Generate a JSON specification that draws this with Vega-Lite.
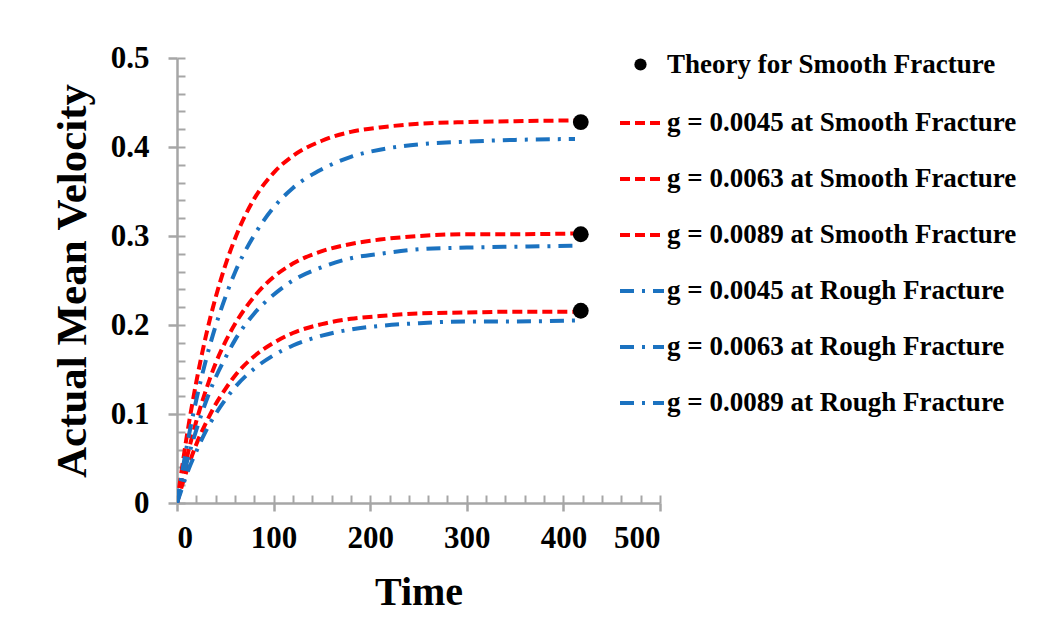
{
  "$schema": "https://vega.github.io/schema/vega-lite/v6.json",
  "width": 483,
  "height": 445,
  "autosize": {"type": "none"},
  "padding": {"left": 177, "top": 58, "right": 393, "bottom": 133},
  "background": "white",
  "config": {
    "view": {"stroke": null},
    "axis": {
      "labelFont": "Liberation Serif",
      "labelFontWeight": "bold",
      "labelColor": "black",
      "titleFont": "Liberation Serif",
      "titleFontWeight": "bold",
      "titleColor": "black",
      "domainColor": "#a6a6a6",
      "tickColor": "#a6a6a6",
      "grid": false
    },
    "legend": {
      "labelFont": "Liberation Serif",
      "labelFontWeight": "bold",
      "labelColor": "black",
      "labelLimit": 600,
      "padding": 0
    }
  },
  "datasets": {
    "curves": [
      {"series": "g = 0.0045 at Smooth Fracture", "time": 0, "velocity": 0},
      {"series": "g = 0.0045 at Smooth Fracture", "time": 5, "velocity": 0.038},
      {"series": "g = 0.0045 at Smooth Fracture", "time": 10, "velocity": 0.074},
      {"series": "g = 0.0045 at Smooth Fracture", "time": 20, "velocity": 0.136},
      {"series": "g = 0.0045 at Smooth Fracture", "time": 30, "velocity": 0.188},
      {"series": "g = 0.0045 at Smooth Fracture", "time": 40, "velocity": 0.231},
      {"series": "g = 0.0045 at Smooth Fracture", "time": 50, "velocity": 0.267},
      {"series": "g = 0.0045 at Smooth Fracture", "time": 60, "velocity": 0.297},
      {"series": "g = 0.0045 at Smooth Fracture", "time": 80, "velocity": 0.342},
      {"series": "g = 0.0045 at Smooth Fracture", "time": 100, "velocity": 0.371},
      {"series": "g = 0.0045 at Smooth Fracture", "time": 120, "velocity": 0.390},
      {"series": "g = 0.0045 at Smooth Fracture", "time": 150, "velocity": 0.407},
      {"series": "g = 0.0045 at Smooth Fracture", "time": 180, "velocity": 0.417},
      {"series": "g = 0.0045 at Smooth Fracture", "time": 210, "velocity": 0.422},
      {"series": "g = 0.0045 at Smooth Fracture", "time": 250, "velocity": 0.426},
      {"series": "g = 0.0045 at Smooth Fracture", "time": 300, "velocity": 0.428},
      {"series": "g = 0.0045 at Smooth Fracture", "time": 350, "velocity": 0.429},
      {"series": "g = 0.0045 at Smooth Fracture", "time": 420, "velocity": 0.430},

      {"series": "g = 0.0063 at Smooth Fracture", "time": 0, "velocity": 0},
      {"series": "g = 0.0063 at Smooth Fracture", "time": 5, "velocity": 0.026},
      {"series": "g = 0.0063 at Smooth Fracture", "time": 10, "velocity": 0.050},
      {"series": "g = 0.0063 at Smooth Fracture", "time": 20, "velocity": 0.092},
      {"series": "g = 0.0063 at Smooth Fracture", "time": 30, "velocity": 0.127},
      {"series": "g = 0.0063 at Smooth Fracture", "time": 40, "velocity": 0.157},
      {"series": "g = 0.0063 at Smooth Fracture", "time": 50, "velocity": 0.181},
      {"series": "g = 0.0063 at Smooth Fracture", "time": 60, "velocity": 0.201},
      {"series": "g = 0.0063 at Smooth Fracture", "time": 80, "velocity": 0.232},
      {"series": "g = 0.0063 at Smooth Fracture", "time": 100, "velocity": 0.254},
      {"series": "g = 0.0063 at Smooth Fracture", "time": 120, "velocity": 0.269},
      {"series": "g = 0.0063 at Smooth Fracture", "time": 150, "velocity": 0.283},
      {"series": "g = 0.0063 at Smooth Fracture", "time": 180, "velocity": 0.291},
      {"series": "g = 0.0063 at Smooth Fracture", "time": 210, "velocity": 0.296},
      {"series": "g = 0.0063 at Smooth Fracture", "time": 250, "velocity": 0.300},
      {"series": "g = 0.0063 at Smooth Fracture", "time": 300, "velocity": 0.302},
      {"series": "g = 0.0063 at Smooth Fracture", "time": 350, "velocity": 0.302},
      {"series": "g = 0.0063 at Smooth Fracture", "time": 420, "velocity": 0.303},

      {"series": "g = 0.0089 at Smooth Fracture", "time": 0, "velocity": 0},
      {"series": "g = 0.0089 at Smooth Fracture", "time": 5, "velocity": 0.019},
      {"series": "g = 0.0089 at Smooth Fracture", "time": 10, "velocity": 0.036},
      {"series": "g = 0.0089 at Smooth Fracture", "time": 20, "velocity": 0.066},
      {"series": "g = 0.0089 at Smooth Fracture", "time": 30, "velocity": 0.090},
      {"series": "g = 0.0089 at Smooth Fracture", "time": 40, "velocity": 0.111},
      {"series": "g = 0.0089 at Smooth Fracture", "time": 50, "velocity": 0.128},
      {"series": "g = 0.0089 at Smooth Fracture", "time": 60, "velocity": 0.143},
      {"series": "g = 0.0089 at Smooth Fracture", "time": 80, "velocity": 0.165},
      {"series": "g = 0.0089 at Smooth Fracture", "time": 100, "velocity": 0.180},
      {"series": "g = 0.0089 at Smooth Fracture", "time": 120, "velocity": 0.191},
      {"series": "g = 0.0089 at Smooth Fracture", "time": 150, "velocity": 0.201},
      {"series": "g = 0.0089 at Smooth Fracture", "time": 180, "velocity": 0.207},
      {"series": "g = 0.0089 at Smooth Fracture", "time": 210, "velocity": 0.210},
      {"series": "g = 0.0089 at Smooth Fracture", "time": 250, "velocity": 0.213},
      {"series": "g = 0.0089 at Smooth Fracture", "time": 300, "velocity": 0.214},
      {"series": "g = 0.0089 at Smooth Fracture", "time": 350, "velocity": 0.215},
      {"series": "g = 0.0089 at Smooth Fracture", "time": 420, "velocity": 0.215},

      {"series": "g = 0.0045 at Rough Fracture", "time": 0, "velocity": 0},
      {"series": "g = 0.0045 at Rough Fracture", "time": 5, "velocity": 0.033},
      {"series": "g = 0.0045 at Rough Fracture", "time": 10, "velocity": 0.063},
      {"series": "g = 0.0045 at Rough Fracture", "time": 20, "velocity": 0.116},
      {"series": "g = 0.0045 at Rough Fracture", "time": 30, "velocity": 0.161},
      {"series": "g = 0.0045 at Rough Fracture", "time": 40, "velocity": 0.199},
      {"series": "g = 0.0045 at Rough Fracture", "time": 50, "velocity": 0.231},
      {"series": "g = 0.0045 at Rough Fracture", "time": 60, "velocity": 0.259},
      {"series": "g = 0.0045 at Rough Fracture", "time": 80, "velocity": 0.301},
      {"series": "g = 0.0045 at Rough Fracture", "time": 100, "velocity": 0.332},
      {"series": "g = 0.0045 at Rough Fracture", "time": 120, "velocity": 0.354},
      {"series": "g = 0.0045 at Rough Fracture", "time": 150, "velocity": 0.375},
      {"series": "g = 0.0045 at Rough Fracture", "time": 180, "velocity": 0.389},
      {"series": "g = 0.0045 at Rough Fracture", "time": 210, "velocity": 0.397},
      {"series": "g = 0.0045 at Rough Fracture", "time": 250, "velocity": 0.403},
      {"series": "g = 0.0045 at Rough Fracture", "time": 300, "velocity": 0.406},
      {"series": "g = 0.0045 at Rough Fracture", "time": 350, "velocity": 0.408},
      {"series": "g = 0.0045 at Rough Fracture", "time": 412, "velocity": 0.409},

      {"series": "g = 0.0063 at Rough Fracture", "time": 0, "velocity": 0},
      {"series": "g = 0.0063 at Rough Fracture", "time": 5, "velocity": 0.023},
      {"series": "g = 0.0063 at Rough Fracture", "time": 10, "velocity": 0.045},
      {"series": "g = 0.0063 at Rough Fracture", "time": 20, "velocity": 0.082},
      {"series": "g = 0.0063 at Rough Fracture", "time": 30, "velocity": 0.114},
      {"series": "g = 0.0063 at Rough Fracture", "time": 40, "velocity": 0.141},
      {"series": "g = 0.0063 at Rough Fracture", "time": 50, "velocity": 0.163},
      {"series": "g = 0.0063 at Rough Fracture", "time": 60, "velocity": 0.183},
      {"series": "g = 0.0063 at Rough Fracture", "time": 80, "velocity": 0.213},
      {"series": "g = 0.0063 at Rough Fracture", "time": 100, "velocity": 0.234},
      {"series": "g = 0.0063 at Rough Fracture", "time": 120, "velocity": 0.250},
      {"series": "g = 0.0063 at Rough Fracture", "time": 150, "velocity": 0.265},
      {"series": "g = 0.0063 at Rough Fracture", "time": 180, "velocity": 0.275},
      {"series": "g = 0.0063 at Rough Fracture", "time": 210, "velocity": 0.280},
      {"series": "g = 0.0063 at Rough Fracture", "time": 250, "velocity": 0.285},
      {"series": "g = 0.0063 at Rough Fracture", "time": 300, "velocity": 0.287},
      {"series": "g = 0.0063 at Rough Fracture", "time": 350, "velocity": 0.288},
      {"series": "g = 0.0063 at Rough Fracture", "time": 412, "velocity": 0.289},

      {"series": "g = 0.0089 at Rough Fracture", "time": 0, "velocity": 0},
      {"series": "g = 0.0089 at Rough Fracture", "time": 5, "velocity": 0.016},
      {"series": "g = 0.0089 at Rough Fracture", "time": 10, "velocity": 0.032},
      {"series": "g = 0.0089 at Rough Fracture", "time": 20, "velocity": 0.058},
      {"series": "g = 0.0089 at Rough Fracture", "time": 30, "velocity": 0.081},
      {"series": "g = 0.0089 at Rough Fracture", "time": 40, "velocity": 0.100},
      {"series": "g = 0.0089 at Rough Fracture", "time": 50, "velocity": 0.116},
      {"series": "g = 0.0089 at Rough Fracture", "time": 60, "velocity": 0.130},
      {"series": "g = 0.0089 at Rough Fracture", "time": 80, "velocity": 0.151},
      {"series": "g = 0.0089 at Rough Fracture", "time": 100, "velocity": 0.166},
      {"series": "g = 0.0089 at Rough Fracture", "time": 120, "velocity": 0.177},
      {"series": "g = 0.0089 at Rough Fracture", "time": 150, "velocity": 0.188},
      {"series": "g = 0.0089 at Rough Fracture", "time": 180, "velocity": 0.195},
      {"series": "g = 0.0089 at Rough Fracture", "time": 210, "velocity": 0.199},
      {"series": "g = 0.0089 at Rough Fracture", "time": 250, "velocity": 0.202},
      {"series": "g = 0.0089 at Rough Fracture", "time": 300, "velocity": 0.204},
      {"series": "g = 0.0089 at Rough Fracture", "time": 350, "velocity": 0.204},
      {"series": "g = 0.0089 at Rough Fracture", "time": 412, "velocity": 0.205}
    ],
    "theory": [
      {"label": "Theory for Smooth Fracture", "time": 418, "velocity": 0.428},
      {"label": "Theory for Smooth Fracture", "time": 418, "velocity": 0.302},
      {"label": "Theory for Smooth Fracture", "time": 418, "velocity": 0.216}
    ]
  },
  "layer": [
    {
      "data": {"name": "curves"},
      "mark": {"type": "line", "strokeWidth": 4, "interpolate": "monotone", "clip": true},
      "encoding": {
        "x": {
          "field": "time", "type": "quantitative",
          "scale": {"domain": [0, 500], "nice": false},
          "axis": {
            "orient": "bottom",
            "values": [0, 100, 200, 300, 400, 500],
            "title": "Time",
            "titleFontSize": 40,
            "titlePadding": 19,
            "labelFontSize": 31,
            "labelPadding": 12,
            "tickSize": 8,
            "tickWidth": 2.5,
            "domainWidth": 2.5
          }
        },
        "y": {
          "field": "velocity", "type": "quantitative",
          "scale": {"domain": [0, 0.5], "nice": false},
          "axis": {
            "orient": "left",
            "values": [0, 0.1, 0.2, 0.3, 0.4, 0.5],
            "labelExpr": "datum.value == 0 ? '0' : format(datum.value, '.1f')",
            "title": "Actual Mean Velocity",
            "titleFontSize": 43,
            "titlePadding": 16,
            "labelFontSize": 31,
            "labelPadding": 19,
            "tickSize": 9,
            "tickWidth": 2.5,
            "domainWidth": 2.5
          }
        },
        "detail": {"field": "series"},
        "color": {
          "field": "series", "type": "nominal",
          "scale": {
            "domain": ["g = 0.0045 at Smooth Fracture", "g = 0.0063 at Smooth Fracture", "g = 0.0089 at Smooth Fracture", "g = 0.0045 at Rough Fracture", "g = 0.0063 at Rough Fracture", "g = 0.0089 at Rough Fracture"],
            "range": ["#ff0000", "#ff0000", "#ff0000", "#1b72c0", "#1b72c0", "#1b72c0"]
          },
          "legend": {
            "orient": "none", "legendX": 441, "legendY": 41, "title": null,
            "symbolType": "stroke", "symbolSize": 1936, "symbolStrokeWidth": 4,
            "labelFontSize": 27, "labelOffset": 1, "rowPadding": 19
          }
        },
        "strokeDash": {
          "field": "series", "type": "nominal",
          "scale": {
            "domain": ["g = 0.0045 at Smooth Fracture", "g = 0.0063 at Smooth Fracture", "g = 0.0089 at Smooth Fracture", "g = 0.0045 at Rough Fracture", "g = 0.0063 at Rough Fracture", "g = 0.0089 at Rough Fracture"],
            "range": [[10, 5], [10, 5], [10, 5], [14, 8, 3, 8], [14, 8, 3, 8], [14, 8, 3, 8]]
          },
          "legend": {
            "orient": "none", "legendX": 441, "legendY": 41, "title": null,
            "symbolType": "stroke", "symbolSize": 1936, "symbolStrokeWidth": 4,
            "labelFontSize": 27, "labelOffset": 1, "rowPadding": 19
          }
        }
      }
    },
    {
      "data": {"name": "theory"},
      "mark": {"type": "point", "filled": true, "size": 250, "shape": "circle", "opacity": 1},
      "encoding": {
        "x": {
          "field": "time", "type": "quantitative",
          "axis": {
            "orient": "bottom",
            "values": [0, 20, 40, 60, 80, 100, 120, 140, 160, 180, 200, 220, 240, 260, 280, 300, 320, 340, 360, 380, 400, 420, 440, 460, 480, 500],
            "labels": false, "title": null, "domain": false,
            "tickSize": -8, "tickWidth": 2
          }
        },
        "y": {
          "field": "velocity", "type": "quantitative",
          "axis": {
            "orient": "left",
            "values": [0, 0.02, 0.04, 0.06, 0.08, 0.1, 0.12, 0.14, 0.16, 0.18, 0.2, 0.22, 0.24, 0.26, 0.28, 0.3, 0.32, 0.34, 0.36, 0.38, 0.4, 0.42, 0.44, 0.46, 0.48, 0.5],
            "labels": false, "title": null, "domain": false,
            "tickSize": -8, "tickWidth": 2
          }
        },
        "fill": {
          "field": "label", "type": "nominal",
          "scale": {"range": ["black"]},
          "legend": {
            "orient": "none", "legendX": 450, "legendY": -7, "title": null,
            "symbolType": "circle", "symbolSize": 150, "symbolStrokeWidth": 0,
            "labelFontSize": 27, "labelOffset": 13
          }
        }
      }
    }
  ],
  "resolve": {"axis": {"x": "independent", "y": "independent"}}
}
